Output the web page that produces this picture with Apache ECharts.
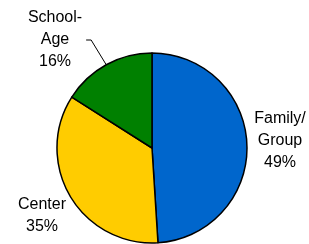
<!DOCTYPE html>
<html>
<head>
<meta charset="utf-8">
<script src="https://cdn.jsdelivr.net/npm/echarts@6/dist/echarts.min.js"></script>
<style>
  html, body { margin: 0; padding: 0; background: #fff; }
  #main { width: 309px; height: 244px; }
</style>
</head>
<body>
<div id="main"></div>
<script>
// 数据
var categories = ['Family/\nGroup', 'Center', 'School-\nAge']
var values = [49, 35, 16]
var colors = ['#0066CC', '#FFCC00', '#008000']

// 标签位置 (中心点)
var labelPos = [
  { x: 280, y: 141 },
  { x: 42, y: 216 },
  { x: 57, y: 40 },
]

var myChart = echarts.init(document.getElementById('main'))
var option = {
  animation: false,
  series: [
    {
      type: 'pie',
      center: [152, 148],
      radius: 95,
      startAngle: 90,
      clockwise: true,
      data: categories.map(function (name, i) {
        return {
          name: name,
          value: values[i],
          itemStyle: { color: colors[i] },
          labelLine: { show: i === 2 },
          label: i === 2 ? { padding: [0, 4, 0, 0] } : {},
        }
      }),
      itemStyle: { borderColor: '#000', borderWidth: 1.5 },
      label: {
        show: true,
        position: 'outside',
        formatter: function (p) {
          return p.name + '\n' + p.value + '%'
        },
        fontFamily: 'Liberation Sans, Arial, sans-serif',
        fontSize: 16,
        lineHeight: 22,
        color: '#000',
        align: 'center',
        overflow: 'none',
      },
      labelLine: {
        lineStyle: { color: '#000', width: 1 },
        length: 10,
        length2: 5,
      },
      labelLayout: function (params) {
        var p = labelPos[params.dataIndex]
        return {
          x: p.x,
          y: p.y,
          align: 'center',
          verticalAlign: 'middle',
        }
      },
    },
  ],
}
myChart.setOption(option)
</script>
</body>
</html>
